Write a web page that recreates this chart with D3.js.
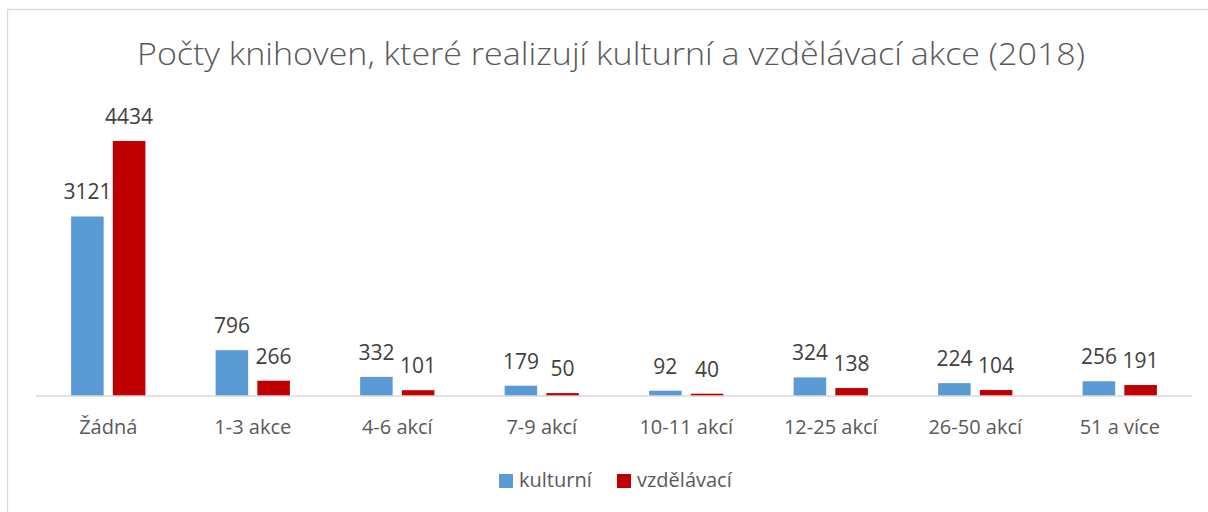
<!DOCTYPE html>
<html>
<head>
<meta charset="utf-8">
<script src="https://cdn.jsdelivr.net/npm/d3@7"></script>
<style>
  html, body { margin: 0; padding: 0; background: #fff; overflow: hidden; }
  svg { display: block; }
  text { font-family: "Open Sans", "Noto Sans", sans-serif; }
</style>
</head>
<body>
<svg id="chart" width="1208" height="512"></svg>
<script>
const title = "Počty knihoven, které realizují kulturní a vzdělávací akce (2018)";
const categories = ["Žádná", "1-3 akce", "4-6 akcí", "7-9 akcí", "10-11 akcí", "12-25 akcí", "26-50 akcí", "51 a více"];
const seriesNames = ["kulturní", "vzdělávací"];
const kulturni = [3121, 796, 332, 179, 92, 324, 224, 256];
const vzdelavaci = [4434, 266, 101, 50, 40, 138, 104, 191];
const seriesColors = ["#5B9BD5", "#C00000"];

const svg = d3.select("#chart");

// chart border (right and bottom edges fall outside the picture)
svg.append("rect")
  .attr("x", 7.5).attr("y", 9.5)
  .attr("width", 1220).attr("height", 520)
  .attr("fill", "#fff").attr("stroke", "#D9D9D9").attr("stroke-width", 1.3);

// title
const t = svg.append("text")
  .attr("x", 611).attr("y", 65)
  .attr("text-anchor", "middle")
  .attr("fill", "#595959")
  .attr("font-size", 31)
  .attr("font-weight", 300)
  .text(title);
t.attr("textLength", 948).attr("lengthAdjust", "spacingAndGlyphs");

const plotLeft = 36, plotRight = 1192, baseY = 396;
const x0 = d3.scaleBand().domain(categories).range([plotLeft, plotRight])
  .paddingInner(0.486).paddingOuter(0.243);
const x1 = d3.scaleBand().domain(seriesNames).range([0, x0.bandwidth()])
  .paddingInner(0.22).paddingOuter(0);
const y = d3.scaleLinear().domain([0, 5000]).range([baseY, baseY - 287.6]);

const data = categories.map((c, i) => ({
  cat: c,
  vals: [
    { s: seriesNames[0], v: kulturni[i], color: seriesColors[0] },
    { s: seriesNames[1], v: vzdelavaci[i], color: seriesColors[1] }
  ]
}));

const g = svg.append("g");
const groups = g.selectAll("g.cat").data(data).join("g")
  .attr("class", "cat")
  .attr("transform", d => `translate(${x0(d.cat)},0)`);

groups.selectAll("rect").data(d => d.vals).join("rect")
  .attr("x", d => x1(d.s))
  .attr("y", d => y(d.v))
  .attr("width", x1.bandwidth())
  .attr("height", d => baseY - y(d.v))
  .attr("fill", d => d.color);

groups.selectAll("text.lbl").data(d => d.vals).join("text")
  .attr("class", "lbl")
  .attr("x", d => x1(d.s) + x1.bandwidth() / 2)
  .attr("y", d => y(d.v) - 17)
  .attr("text-anchor", "middle")
  .attr("fill", "#404040")
  .attr("font-size", 21)
  .text(d => d.v);

// x axis
const xAxis = svg.append("g")
  .attr("transform", `translate(0,${baseY})`)
  .call(d3.axisBottom(x0).tickSize(0).tickPadding(0));
xAxis.select(".domain").attr("stroke", "#D9D9D9").attr("stroke-width", 1.5)
  .attr("d", `M${plotLeft},0H${plotRight}`);
xAxis.selectAll(".tick text")
  .attr("y", 38).attr("dy", 0)
  .attr("fill", "#595959")
  .attr("font-size", 20)
  .attr("font-family", "Open Sans, Noto Sans, sans-serif");

// legend
const legendItems = [
  { name: seriesNames[0], color: seriesColors[0], x: 499 },
  { name: seriesNames[1], color: seriesColors[1], x: 617 }
];
const lg = svg.append("g").selectAll("g").data(legendItems).join("g")
  .attr("transform", d => `translate(${d.x},474)`);
lg.append("rect").attr("width", 14).attr("height", 14).attr("fill", d => d.color);
lg.append("text").attr("x", 20).attr("y", 13)
  .attr("fill", "#595959").attr("font-size", 20)
  .text(d => d.name);
</script>
</body>
</html>
